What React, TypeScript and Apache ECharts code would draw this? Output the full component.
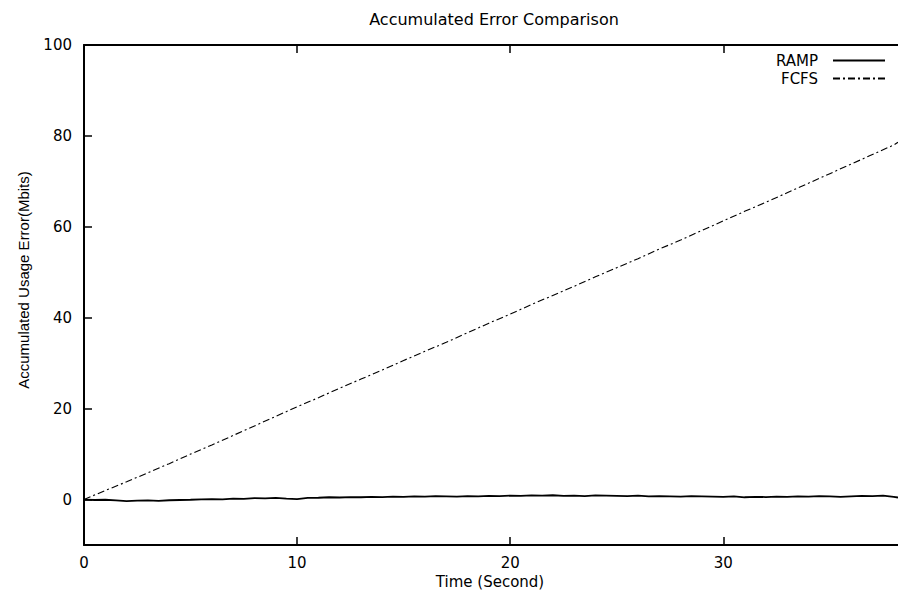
import React, { useEffect, useRef } from "react";
import * as echarts from "echarts";

const titleText = "Accumulated Error Comparison";
const xAxisTitle = "Time (Second)";
const yAxisTitle = "Accumulated Usage Error(Mbits)";
const seriesNames = ["RAMP", "FCFS"];

const xTicks = [0, 10, 20, 30];
const yTicks = [0, 20, 40, 60, 80, 100];

const rampTimes = [
  0, 0.5, 1, 1.5, 2, 2.5, 3, 3.5, 4, 4.5, 5, 5.5, 6, 6.5, 7, 7.5, 8, 8.5, 9, 9.5,
  10, 10.5, 11, 11.5, 12, 12.5, 13, 13.5, 14, 14.5, 15, 15.5, 16, 16.5, 17, 17.5,
  18, 18.5, 19, 19.5, 20, 20.5, 21, 21.5, 22, 22.5, 23, 23.5, 24, 24.5, 25, 25.5,
  26, 26.5, 27, 27.5, 28, 28.5, 29, 29.5, 30, 30.5, 31, 31.5, 32, 32.5, 33, 33.5,
  34, 34.5, 35, 35.5, 36, 36.5, 37, 37.5, 38, 38.2,
];
const rampValues = [
  0.0, -0.1, -0.05, -0.2, -0.35, -0.25, -0.2, -0.3, -0.15, -0.1, -0.05, 0.05, 0.1, 0.05, 0.2, 0.15, 0.3, 0.25, 0.35, 0.2,
  0.1, 0.35, 0.4, 0.5, 0.45, 0.55, 0.5, 0.6, 0.55, 0.65, 0.6, 0.7, 0.65, 0.75, 0.7, 0.65,
  0.75, 0.7, 0.8, 0.75, 0.85, 0.8, 0.9, 0.85, 0.95, 0.8, 0.85, 0.75, 0.9, 0.85, 0.8, 0.75,
  0.85, 0.7, 0.75, 0.7, 0.65, 0.75, 0.7, 0.65, 0.6, 0.7, 0.5, 0.6, 0.55, 0.65, 0.6, 0.7,
  0.65, 0.75, 0.7, 0.6, 0.7, 0.8, 0.75, 0.85, 0.6, 0.45,
];

const fcfsTimes = [
  0, 1, 2, 3, 4, 5, 6, 7, 8, 9, 10, 11, 12, 13, 14, 15, 16, 17, 18, 19, 20,
  21, 22, 23, 24, 25, 26, 27, 28, 29, 30, 31, 32, 33, 34, 35, 36, 37, 38, 38.2,
];
const fcfsValues = [
  0, 2.0, 3.9, 5.9, 7.9, 10.0, 12.0, 14.1, 16.2, 18.3, 20.4, 22.4, 24.5, 26.5, 28.5, 30.6, 32.6, 34.6, 36.7, 38.8, 40.8,
  42.9, 44.9, 46.9, 49.0, 51.0, 53.0, 55.1, 57.1, 59.2, 61.3, 63.4, 65.4, 67.5, 69.6, 71.7, 73.8, 75.9, 78.0, 78.6,
];

const X_MIN = 0;
const X_MAX = 38.2;
const Y_MIN = -10;
const Y_MAX = 100;

export default function App() {
  const ref = useRef<HTMLDivElement>(null);
  useEffect(() => {
    if (!ref.current) return;
    const chart = echarts.init(ref.current, null, { renderer: "svg" });
    const font = "DejaVu Sans";
    const tickLabel = { color: "#000", fontFamily: font, fontSize: 15 };
    const axisLineStyle = { color: "#000", width: 2 };
    const tickStyle = { color: "#000", width: 1.5 };
    chart.setOption({
      animation: false,
      backgroundColor: "#fff",
      grid: {
        left: 84,
        top: 45,
        bottom: 50,
        right: 0,
      },
      legend: {
        orient: "vertical",
        right: 12,
        top: 53,
        padding: 0,
        align: "right",
        itemWidth: 52,
        itemHeight: 12,
        itemGap: 3,
        itemStyle: { opacity: 0 },
        textStyle: {
          color: "#000",
          fontFamily: font,
          fontSize: 15,
          lineHeight: 15,
          padding: [0, 10, 0, 0],
        },
        data: seriesNames,
      },
      graphic: [
        {
          type: "text",
          x: 494,
          y: 19,
          style: {
            text: titleText,
            fill: "#000",
            font: `16px "${font}"`,
            textAlign: "center",
            textVerticalAlign: "middle",
          },
        },
        {
          type: "text",
          x: 490,
          y: 582,
          style: {
            text: xAxisTitle,
            fill: "#000",
            font: `15px "${font}"`,
            textAlign: "center",
            textVerticalAlign: "middle",
          },
        },
        {
          type: "text",
          x: 23,
          y: 280,
          rotation: Math.PI / 2,
          style: {
            text: yAxisTitle,
            fill: "#000",
            font: `15px "Liberation Sans"`,
            textAlign: "center",
            textVerticalAlign: "middle",
          },
        },
      ],
      xAxis: [
        {
          type: "value",
          min: X_MIN,
          max: X_MAX,
          position: "bottom",
          axisLine: { show: true, onZero: false, lineStyle: axisLineStyle },
          splitLine: { show: false },
          axisTick: {
            show: true,
            inside: true,
            length: 8,
            customValues: xTicks,
            lineStyle: tickStyle,
          },
          axisLabel: { ...tickLabel, margin: 10, customValues: xTicks },
        },
        {
          type: "value",
          min: X_MIN,
          max: X_MAX,
          position: "top",
          axisLine: { show: true, onZero: false, lineStyle: axisLineStyle },
          splitLine: { show: false },
          axisTick: {
            show: true,
            inside: true,
            length: 8,
            customValues: xTicks,
            lineStyle: tickStyle,
          },
          axisLabel: { show: false },
        },
      ],
      yAxis: {
        type: "value",
        min: Y_MIN,
        max: Y_MAX,
        axisLine: { show: true, onZero: false, lineStyle: axisLineStyle },
        splitLine: { show: false },
        axisTick: {
          show: true,
          inside: true,
          length: 8,
          customValues: yTicks,
          lineStyle: tickStyle,
        },
        axisLabel: { ...tickLabel, margin: 12, customValues: yTicks },
      },
      series: [
        {
          name: seriesNames[0],
          type: "line",
          xAxisIndex: 0,
          symbol: "none",
          data: rampTimes.map((t, i) => [t, rampValues[i]]),
          lineStyle: { color: "#000", width: 1.8 },
          itemStyle: { color: "#000" },
        },
        {
          name: seriesNames[1],
          type: "line",
          xAxisIndex: 0,
          symbol: "none",
          data: fcfsTimes.map((t, i) => [t, fcfsValues[i]]),
          lineStyle: { color: "#000", width: 1.1, type: [7, 3, 2, 3] },
          itemStyle: { color: "#000" },
        },
      ],
    });
    return () => chart.dispose();
  }, []);
  return <div ref={ref} style={{ width: 898, height: 595, position: "absolute", left: 0, top: 0 }} />;
}
